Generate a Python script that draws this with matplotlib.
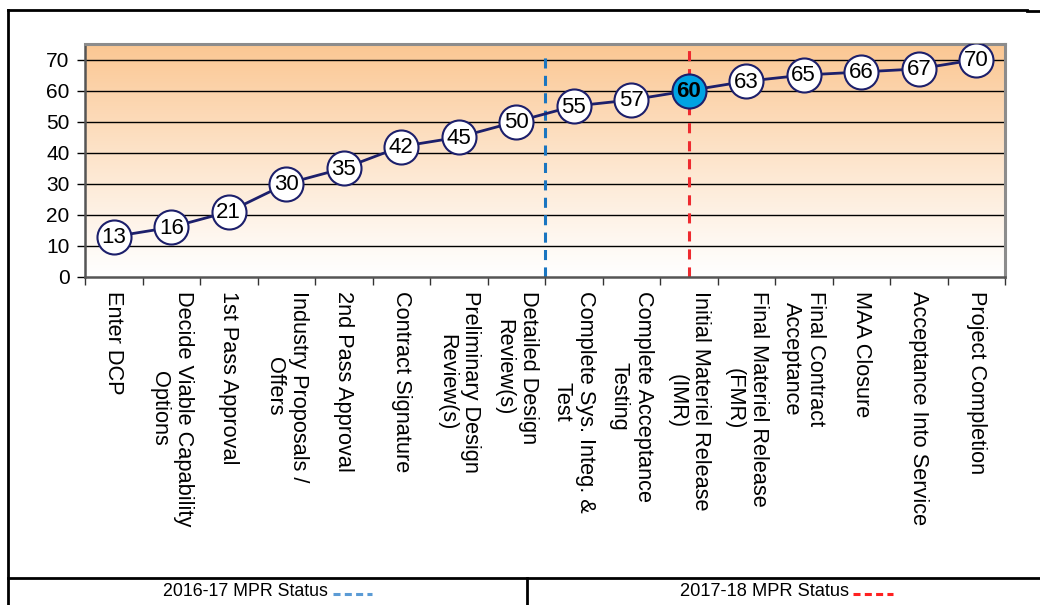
import matplotlib
matplotlib.use("Agg")
import matplotlib.pyplot as plt
import numpy as np
from matplotlib.lines import Line2D

plt.rcParams['font.family'] = ['Liberation Sans', 'DejaVu Sans']

categories = [
    "Enter DCP",
    "Decide Viable Capability\nOptions",
    "1st Pass Approval",
    "Industry Proposals /\nOffers",
    "2nd Pass Approval",
    "Contract Signature",
    "Preliminary Design\nReview(s)",
    "Detailed Design\nReview(s)",
    "Complete Sys. Integ. &\nTest",
    "Complete Acceptance\nTesting",
    "Initial Materiel Release\n(IMR)",
    "Final Materiel Release\n(FMR)",
    "Final Contract\nAcceptance",
    "MAA Closure",
    "Acceptance Into Service",
    "Project Completion",
]
values = [13, 16, 21, 30, 35, 42, 45, 50, 55, 57, 60, 63, 65, 66, 67, 70]
highlight_index = 10
status_2016_pos = 7.5
status_2017_pos = 10
legend_labels = ["2016-17 MPR Status", "2017-18 MPR Status"]
yticks = [0, 10, 20, 30, 40, 50, 60, 70]

W, H = 1040, 605
fig = plt.figure(figsize=(W / 100, H / 100), dpi=100)
ax = fig.add_axes([85 / W, 1 - 277 / H, 920 / W, (277 - 44) / H])

n = len(categories)
x = np.arange(n)
ax.set_xlim(-0.5, n - 0.5)
ax.set_ylim(0, 75)

# gradient background
t = np.linspace(0, 1, 256)[:, None]  # 0 bottom -> 1 top
top = np.array([0.984, 0.780, 0.575])
white = np.array([1.0, 1.0, 1.0])
w = np.clip(t ** 1.1, 0, 1)
img = white * (1 - w[..., None]) + top * w[..., None]
img = np.repeat(img, 2, axis=1)
ax.imshow(img, extent=[-0.5, n - 0.5, 0, 75], origin='lower', aspect='auto', zorder=0)

for yv in yticks[1:]:
    ax.axhline(yv, color='black', lw=1.0, zorder=1)

ax.axvline(status_2016_pos, ymin=0, ymax=72 / 75, color='#1A75C0', lw=2.2,
           dashes=(3.3, 2.4), zorder=2)
ax.axvline(status_2017_pos, ymin=0, ymax=1, color='#EE2A2F', lw=2.2,
           dashes=(3.3, 2.6), zorder=2)

ax.plot(x, values, color='#1C1F6B', lw=2.0, zorder=3)
for i, v in enumerate(values):
    hl = i == highlight_index
    ax.plot(i, v, 'o', ms=24.5, mfc='#00A3E3' if hl else 'white', mec='#1C1F6B',
            mew=1.5, zorder=4)
    ax.text(i, v - 0.3, str(v), ha='center', va='center', fontsize=16,
            fontweight='bold' if hl else 'normal', color='black', zorder=5)

ax.set_yticks(yticks)
ax.set_yticklabels([str(v) for v in yticks], fontsize=15)
ax.tick_params(axis='y', length=6, width=1, direction='out', pad=5, colors='black')

ax.set_xticks(np.arange(-0.5, n, 1.0))
ax.set_xticklabels([])
ax.tick_params(axis='x', which='major', length=6, width=1, direction='out', color='#333333')
ax.set_xticks(x, minor=True)
ax.set_xticklabels(categories, minor=True, rotation=270, fontsize=15.7,
                   ha='center', va='top', multialignment='center')
ax.tick_params(axis='x', which='minor', length=0, pad=10)

for side in ['top', 'right']:
    ax.spines[side].set_color('#8C8C8C')
    ax.spines[side].set_linewidth(2.2)
for side in ['left', 'bottom']:
    ax.spines[side].set_color('#555555')
    ax.spines[side].set_linewidth(1.8)

# outer frame lines (figure coords)
def fx(px):
    return px / W

def fy(py):
    return 1 - py / H

frame = [
    ([8, 8], [10, 605]),
    ([8, 1027], [10, 10]),
    ([1027, 1040], [11, 11]),
    ([8, 1040], [578, 578]),
    ([527, 527], [578, 605]),
]
for xs, ys in frame:
    fig.add_artist(Line2D([fx(a) for a in xs], [fy(b) for b in ys], color='black', lw=2.0))

# legend row
leg_font = ['Liberation Sans Narrow', 'Liberation Sans', 'DejaVu Sans']
cells = [((163, 328), (333, 372), '#5B9BD5'), ((680, 849), (853, 893), '#FF2020')]
renderer = fig.canvas.get_renderer()
for (tspan, dspan, col), lab in zip(cells, legend_labels):
    cx = (tspan[0] + tspan[1]) / 2
    txt = fig.text(fx(cx), fy(592), lab, ha='center', va='center', fontsize=12,
                   family=leg_font, color='black')
    wpx = txt.get_window_extent(renderer).width
    txt.set_fontsize(12 * (tspan[1] - tspan[0]) / wpx)
    fig.add_artist(Line2D([fx(dspan[0]), fx(dspan[1])], [fy(594), fy(594)], color=col,
                          lw=2.2, dashes=(2.3, 1.4)))

fig.savefig('out.png', dpi=100)
